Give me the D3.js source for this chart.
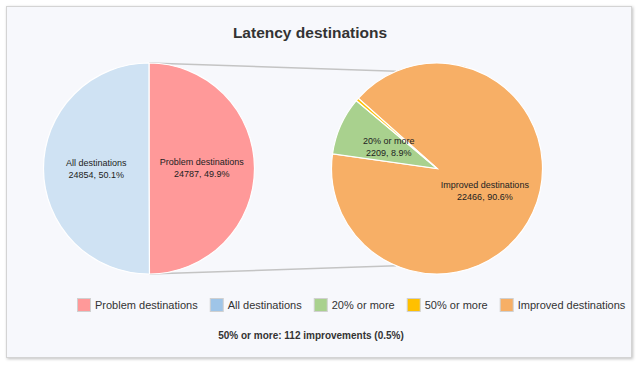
<!DOCTYPE html>
<html>
<head>
<meta charset="utf-8">
<script src="https://cdn.jsdelivr.net/npm/d3@7"></script>
<style>
body { margin: 0; background: #ffffff; }
svg { display: block; font-family: "Liberation Sans", Arial, sans-serif; }
</style>
</head>
<body>
<svg id="chart" width="638" height="365"></svg>
<script>
// data
var leftLabels = ["Problem destinations", "All destinations"];
var leftValues = [24787, 24854];
var rightLabels = ["Improved destinations", "20% or more", "50% or more"];
var rightValues = [22466, 2209, 112];
var legendLabels = ["Problem destinations", "All destinations", "20% or more", "50% or more", "Improved destinations"];
var footerText = "50% or more: 112 improvements (0.5%)";

var colors = {
	"Problem destinations": "#ff9999",
	"All destinations": "#cfe2f3",
	"20% or more": "#a9d18e",
	"50% or more": "#ffc000",
	"Improved destinations": "#f7af66"
};
var legendColors = {
	"Problem destinations": "#ff9999",
	"All destinations": "#9fc5e8",
	"20% or more": "#a9d18e",
	"50% or more": "#ffc000",
	"Improved destinations": "#f7af66"
};

var svg = d3.select("#chart");

var defs = svg.append("defs");
var f = defs.append("filter").attr("id", "shadow").attr("x", "-5%").attr("y", "-5%").attr("width", "110%").attr("height", "110%");
f.append("feDropShadow").attr("dx", 1).attr("dy", 1).attr("stdDeviation", 1.5).attr("flood-color", "#000").attr("flood-opacity", 0.25);

svg.append("rect")
	.attr("x", 6.5).attr("y", 6.5)
	.attr("width", 625).attr("height", 351)
	.attr("fill", "#f7f8fc")
	.attr("stroke", "#d4d4d4")
	.attr("filter", "url(#shadow)");

svg.append("text")
	.attr("x", 310).attr("y", 38)
	.attr("text-anchor", "middle")
	.attr("font-size", 15.5)
	.attr("font-weight", "bold")
	.attr("fill", "#333")
	.text("Latency destinations");

var r = 105.5;
var leftC = [149, 168.5];
var rightC = [437, 168.5];

// connector lines from left pie to right pie
var joinAngle = 0.398;
var lines = [
	[leftC[0], leftC[1] - r, rightC[0] - r * Math.sin(joinAngle), rightC[1] - r * Math.cos(joinAngle)],
	[leftC[0], leftC[1] + r, rightC[0] - r * Math.sin(joinAngle), rightC[1] + r * Math.cos(joinAngle)]
];
svg.selectAll(".join")
	.data(lines)
	.enter()
	.append("line")
		.attr("class", "join")
		.attr("x1", function(d){ return d[0]; })
		.attr("y1", function(d){ return d[1]; })
		.attr("x2", function(d){ return d[2]; })
		.attr("y2", function(d){ return d[3]; })
		.attr("stroke", "#c4c4c4")
		.attr("stroke-width", 1.5);

var arc = d3.arc().innerRadius(0).outerRadius(r);
var labelArc = d3.arc().innerRadius(r * 0.5).outerRadius(r * 0.5);

function drawPie(center, labels, values, startAngle, minShare){
	var total = d3.sum(values);
	var items = labels.map(function(l, i){ return {label: l, value: values[i]}; });
	var pie = d3.pie()
		.sort(null)
		.value(function(d){ return d.value; })
		.startAngle(startAngle)
		.endAngle(startAngle + 2 * Math.PI);
	var g = svg.append("g").attr("transform", "translate(" + center[0] + "," + center[1] + ")");
	var arcs = pie(items);
	g.selectAll("path")
		.data(arcs)
		.enter()
		.append("path")
		.attr("d", arc)
		.attr("fill", function(d){ return colors[d.data.label]; })
		.attr("stroke", "#ffffff")
		.attr("stroke-width", 1.2);
	var lab = g.selectAll(".lab")
		.data(arcs.filter(function(d){ return d.data.value / total > minShare; }))
		.enter()
		.append("text")
		.attr("class", "lab")
		.attr("text-anchor", "middle")
		.attr("font-size", 9)
		.attr("fill", "#222")
		.attr("transform", function(d){ return "translate(" + labelArc.centroid(d) + ")"; });
	lab.append("tspan").attr("x", 0).attr("y", -3)
		.text(function(d){ return d.data.label; });
	lab.append("tspan").attr("x", 0).attr("y", 9)
		.text(function(d){ return d.data.value + ", " + (100 * d.data.value / total).toFixed(1) + "%"; });
}

drawPie(leftC, leftLabels, leftValues, 0, 0.02);
drawPie(rightC, rightLabels, rightValues, -48.3 * Math.PI / 180, 0.02);

// legend
var legend = svg.append("g").attr("transform", "translate(77,298)");
var lx = 0;
legendLabels.forEach(function(l){
	var item = legend.append("g").attr("transform", "translate(" + lx + ",0)");
	item.append("rect")
		.attr("x", 0.5).attr("y", 0.5)
		.attr("width", 13).attr("height", 13)
		.attr("fill", legendColors[l])
		.attr("stroke", "#d0d0d0");
	var t = item.append("text")
		.attr("x", 18).attr("y", 11)
		.attr("font-size", 11)
		.attr("fill", "#333")
		.text(l);
	lx += 18 + t.node().getComputedTextLength() + 12;
});

svg.append("text")
	.attr("x", 311).attr("y", 339)
	.attr("text-anchor", "middle")
	.attr("font-size", 10)
	.attr("font-weight", "bold")
	.attr("fill", "#333")
	.text(footerText);
</script>
</body>
</html>
